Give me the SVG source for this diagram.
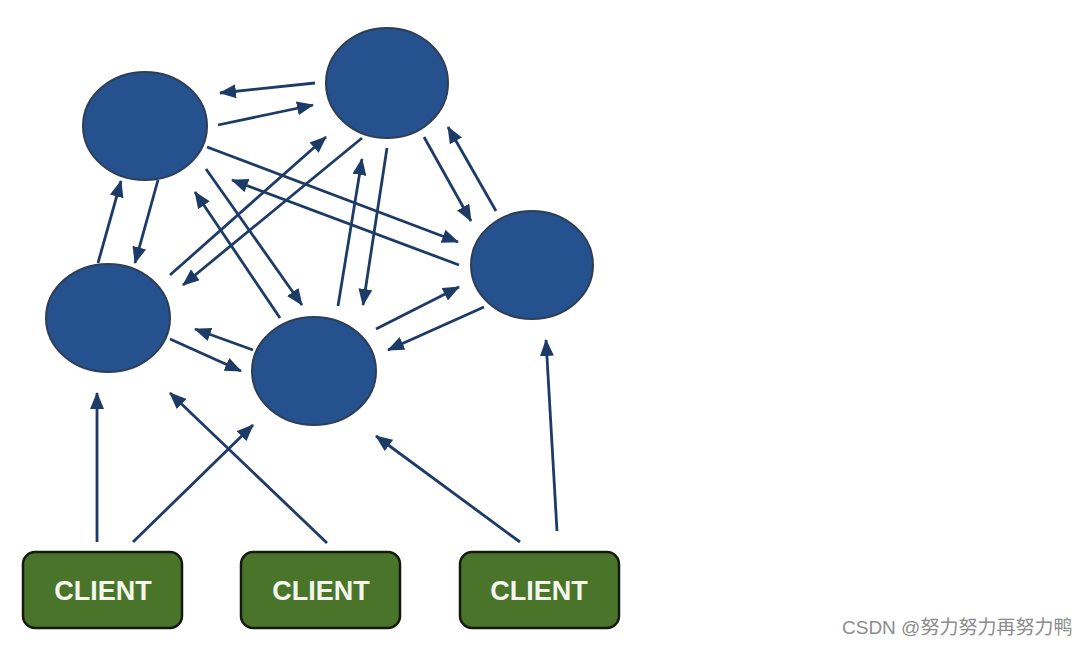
<svg xmlns="http://www.w3.org/2000/svg" width="1088" height="646" viewBox="0 0 1088 646">
<style>
.node ellipse{fill:#26518f;stroke:#2e3f55;stroke-width:2}
.client rect{fill:#4a7429;stroke:#141a10;stroke-width:2.5}
.client text{font-family:"Liberation Sans",Arial,sans-serif;font-weight:bold;font-size:27px;fill:#f2f6ec;text-anchor:middle}
.conn line{stroke:#1c3b66;stroke-width:2.8;marker-end:url(#ah)}
.wm{font-family:"Liberation Sans","Noto Sans CJK SC",sans-serif;font-size:19px;fill:#8c8c8c}
</style>
<defs>
<marker id="ah" markerUnits="userSpaceOnUse" markerWidth="18" markerHeight="14" refX="16" refY="7" orient="auto">
<path d="M0,0 L17,7 L0,14 z" fill="#1c3b66"/>
</marker>
</defs>
<rect width="1088" height="646" fill="#ffffff"/>
<g class="conn">
<line x1="315" y1="83" x2="220" y2="93"/>
<line x1="218" y1="125" x2="313" y2="105"/>
<line x1="207" y1="147" x2="458" y2="242"/>
<line x1="459" y1="265" x2="232" y2="180"/>
<line x1="170" y1="275" x2="326" y2="137"/>
<line x1="362" y1="138" x2="183" y2="285"/>
<line x1="158" y1="180" x2="135" y2="263"/>
<line x1="98" y1="263" x2="121" y2="181"/>
<line x1="280" y1="318" x2="195" y2="192"/>
<line x1="206" y1="169" x2="302" y2="305"/>
<line x1="338" y1="306" x2="362" y2="159"/>
<line x1="387" y1="148" x2="363" y2="305"/>
<line x1="424" y1="137" x2="471" y2="221"/>
<line x1="496" y1="211" x2="448" y2="127"/>
<line x1="376" y1="329" x2="459" y2="287"/>
<line x1="484" y1="307" x2="388" y2="350"/>
<line x1="253" y1="350" x2="195" y2="329"/>
<line x1="170" y1="339" x2="241" y2="371"/>
<line x1="97" y1="542" x2="97" y2="393"/>
<line x1="133" y1="542" x2="253" y2="425"/>
<line x1="327" y1="543" x2="170" y2="393"/>
<line x1="520" y1="542" x2="376" y2="436"/>
<line x1="557" y1="531" x2="546" y2="340"/>
</g>
<g id="node-a" class="node"><ellipse cx="145" cy="126" rx="62" ry="54"/></g>
<g id="node-b" class="node"><ellipse cx="387" cy="83" rx="61" ry="55"/></g>
<g id="node-c" class="node"><ellipse cx="532" cy="265" rx="61" ry="54"/></g>
<g id="node-d" class="node"><ellipse cx="108" cy="318" rx="62" ry="54"/></g>
<g id="node-e" class="node"><ellipse cx="314" cy="371" rx="62" ry="54"/></g>
<g id="client-1" class="client"><rect x="23" y="552" width="159" height="76" rx="12"/><text x="103" y="600">CLIENT</text></g>
<g id="client-2" class="client"><rect x="241" y="552" width="159" height="76" rx="12"/><text x="321" y="600">CLIENT</text></g>
<g id="client-3" class="client"><rect x="460" y="552" width="159" height="76" rx="12"/><text x="539" y="600">CLIENT</text></g>
<text class="wm" x="842" y="634">CSDN @努力努力再努力鸭</text>
</svg>
